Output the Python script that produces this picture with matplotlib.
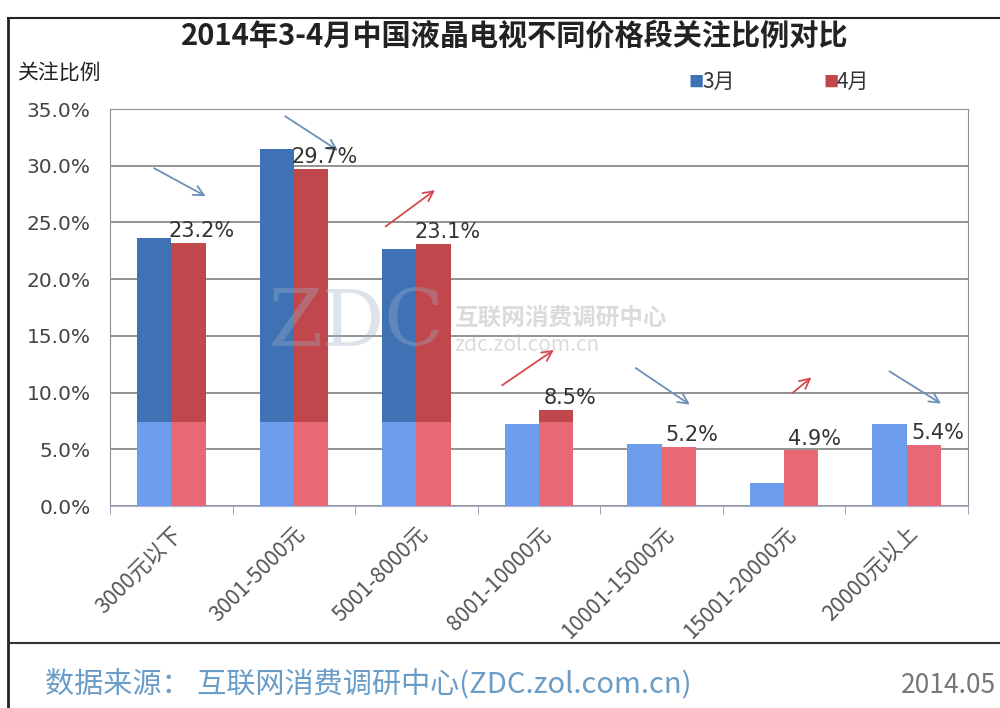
import numpy as np
import matplotlib
matplotlib.use("Agg")
import matplotlib.pyplot as plt
from matplotlib.lines import Line2D

plt.rcParams['font.family'] = ['Noto Sans CJK SC', 'DejaVu Sans']

# data (percent)
categories = ["3000元以下", "3001-5000元", "5001-8000元", "8001-10000元",
              "10001-15000元", "15001-20000元", "20000元以上"]
march = [23.6, 31.5, 22.7, 7.2, 5.5, 2.0, 7.2]
april = [23.2, 29.7, 23.1, 8.5, 5.2, 4.9, 5.4]
april_labels = ["23.2%", "29.7%", "23.1%", "8.5%", "5.2%", "4.9%", "5.4%"]
yticks = [0, 5, 10, 15, 20, 25, 30, 35]

# decorative trend arrows: (x0, y0, x1, y1, up?)
arrows = [(-0.16, 29.9, 0.30, 27.2, False),
          (0.91, 34.5, 1.38, 31.2, False),
          (1.73, 24.5, 2.17, 28.0, True),
          (2.68, 10.5, 3.14, 13.9, True),
          (3.77, 12.3, 4.25, 8.8, False),
          (5.05, 9.8, 5.24, 11.5, True),
          (5.84, 12.0, 6.30, 8.9, False)]

blue_dark, blue_light = "#3f72b5", "#6d9ded"
red_dark, red_light = "#c0474b", "#e86876"
split = 7.4   # the lower band of each bar is drawn lighter in the original

fig = plt.figure(figsize=(10, 7.08), dpi=100)
ax = fig.add_axes([0.11, 0.2853, 0.858, 0.5607])

x = np.arange(len(categories))
w = 0.28
for xs, vals, dark, light in [(x - w / 2, march, blue_dark, blue_light),
                              (x + w / 2, april, red_dark, red_light)]:
    vals = np.array(vals)
    low = np.minimum(vals, split)
    ax.bar(xs, low, width=w, color=light, zorder=3)
    high = np.clip(vals - split, 0, None)
    ax.bar(xs, high, bottom=split, width=w, color=dark, zorder=3)

for i, (v, lab) in enumerate(zip(april, april_labels)):
    ax.text(i + 0.25, v + 0.15, lab, ha='center', va='bottom', fontsize=15,
            color='#333333', family=['DejaVu Sans'], zorder=5)

for x0, y0, x1, y1, up in arrows:
    c = "#d9484f" if up else "#6e8fb8"
    ax.annotate("", xy=(x1, y1), xytext=(x0, y0),
                arrowprops=dict(arrowstyle="->", color=c, lw=1.3,
                                mutation_scale=18), zorder=4)

# watermark
ax.text(1.51, 16.0, "ZDC", fontsize=56, color="#9fb0c8", alpha=0.35,
        family=['DejaVu Serif'], ha='center', va='center', zorder=4)
ax.text(2.31, 16.6, "互联网消费调研中心", fontsize=17, color="#b0b0b0",
        alpha=0.45, va='center', fontweight='bold', zorder=4)
ax.text(2.31, 14.2, "zdc.zol.com.cn", fontsize=15, color="#b0b0b0",
        alpha=0.45, va='center', zorder=4)

ax.set_xlim(-0.5, len(categories) - 0.5)
ax.set_ylim(0, 35)
ax.set_yticks(yticks)
ax.set_yticklabels([f"{t:.1f}%" for t in yticks], family=['DejaVu Sans'])
ax.yaxis.grid(True, color="#808080", lw=1.2, zorder=0)
ax.tick_params(axis='y', length=0, labelsize=14.5, pad=14, colors='#444444')

ax.set_xticks(x)
ax.set_xticklabels(categories, rotation=45, ha='right', rotation_mode='anchor')
ax.tick_params(axis='x', length=0, labelsize=15.5, pad=12, colors='#555555')
ax.set_xticks(np.arange(len(categories) + 1) - 0.5, minor=True)
ax.tick_params(axis='x', which='minor', length=6, color='#8a8fb0', direction='out')

for s in ['left', 'right', 'top']:
    ax.spines[s].set_color('#909090')
ax.spines['bottom'].set_color('#aab0d0')

# title, axis name, legend, footer
fig.text(0.515, 0.949, "2014年3-4月中国液晶电视不同价格段关注比例对比",
         ha='center', va='center', fontsize=21, fontweight='bold', color='#222222')
fig.text(0.018, 0.898, "关注比例", fontsize=15, va='center', color='#222222')
fig.text(0.688, 0.884, "■", fontsize=11, color=blue_dark, va='center')
fig.text(0.702, 0.884, "3月", fontsize=15, color='#333333', va='center')
fig.text(0.823, 0.884, "■", fontsize=11, color=red_dark, va='center')
fig.text(0.837, 0.884, "4月", fontsize=15, color='#333333', va='center')
fig.text(0.045, 0.032, "数据来源： 互联网消费调研中心(ZDC.zol.com.cn)",
         fontsize=21, color='#6a9cc8', va='center')
fig.text(0.996, 0.032, "2014.05", fontsize=19, color='#777777',
         va='center', ha='right')

# frame lines of the original picture
fig.add_artist(Line2D([0.008, 0.008], [0.0, 0.975], color='#222222', lw=2))
fig.add_artist(Line2D([0.008, 1.0], [0.975, 0.975], color='#222222', lw=1.5))
fig.add_artist(Line2D([0.008, 1.0], [0.092, 0.092], color='#333333', lw=1.5))

fig.savefig("out.png", dpi=100, facecolor='white')
